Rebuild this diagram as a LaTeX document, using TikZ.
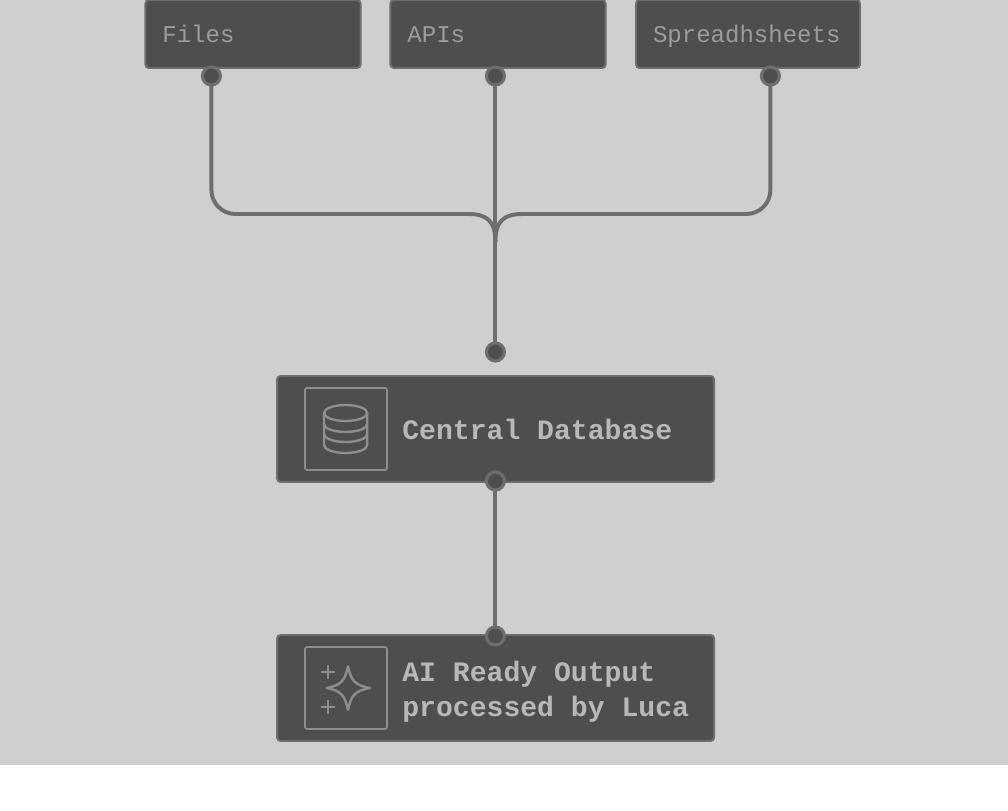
\documentclass[tikz,border=0pt]{standalone}
\usepackage{fontspec}
\setmonofont{Liberation Mono}
\definecolor{pagegray}{HTML}{CFCFCF}
\definecolor{boxgray}{HTML}{4E4E4E}
\definecolor{edgegray}{HTML}{6E6E6E}
\definecolor{icongray}{HTML}{8E8E8E}
\definecolor{srctext}{HTML}{9C9C9C}
\definecolor{maintext}{HTML}{B8B8B8}
\tikzset{
    srcbox/.style={draw=edgegray, fill=boxgray, line width=1.4pt, rounded corners=2.5pt,
        minimum height=1.7cm, inner xsep=0.425cm, inner ysep=0pt, text=srctext, align=left,
        font=\ttfamily\fontsize{17.1}{21}\selectfont, text width=#1,
        text height=15pt, text depth=2.6pt},
    mainbox/.style={draw=edgegray, fill=boxgray, line width=1.4pt, rounded corners=2.5pt,
        minimum width=10.925cm, minimum height=2.65cm},
    iconbox/.style={draw=icongray, line width=1.2pt, rounded corners=1.5pt,
        minimum width=2.05cm, minimum height=2.05cm},
    maintitle/.style={anchor=west, inner sep=0pt, text=maintext, align=left,
        font=\ttfamily\bfseries\fontsize{20}{24.9}\selectfont},
    port/.style={circle, draw=edgegray, fill=boxgray, line width=2.2pt, minimum size=0.45cm,
        inner sep=0pt, outer sep=0pt},
    wire/.style={draw=edgegray, line width=2.8pt},
    iconline/.style={draw=icongray, line width=1.7pt}
}

\begin{document}
\begin{tikzpicture}
    % Fix the page and draw the gray backdrop
    \useasboundingbox (0,0) rectangle (25.2,20.25);
    \fill[white] (0,0) rectangle (25.2,20.25);
    \fill[pagegray] (0,1.125) rectangle (25.2,20.25);

    % Source boxes
    \node[srcbox=4.53cm] (files) at (6.325,19.4) {Files};
    \node[srcbox=4.53cm] (apis) at (12.45,19.4) {APIs};
    \node[srcbox=4.75cm] (sheets) at (18.7,19.4) {Spreadhsheets};

    % Main boxes
    \node[mainbox] (database) at (12.39,9.525) {};
    \node[mainbox] (output) at (12.39,3.05) {};

    % Icon frames
    \node[iconbox] (dbframe) at (8.65,9.525) {};
    \node[iconbox] (aiframe) at (8.65,3.05) {};

    % Box titles
    \node[maintitle] (dbtitle) at (10.05,9.525) {Central Database};
    \node[maintitle] (aititle) at (10.05,2.96) {AI Ready Output\\processed by Luca};

    % Ports
    \node[port] (filesport) at (5.285,18.35) {};
    \node[port] (apisport) at (12.385,18.35) {};
    \node[port] (sheetsport) at (19.26,18.35) {};
    \node[port] (dbin) at (12.385,11.45) {};
    \node[port] (dbout) at (12.385,8.225) {};
    \node[port] (aiin) at (12.385,4.35) {};

    % Merge point of the three wires
    \coordinate (merge) at (12.385,14.2);
    \coordinate (leftbend) at (11.7,14.9);
    \coordinate (rightbend) at (13.07,14.9);

    % Wires
    \draw[wire, rounded corners=0.6cm] (filesport) |- (leftbend);
    \draw[wire] (leftbend) .. controls (12.15,14.9) and (12.385,14.75) .. (merge);
    \draw[wire, rounded corners=0.6cm] (sheetsport) |- (rightbend);
    \draw[wire] (rightbend) .. controls (12.62,14.9) and (12.385,14.75) .. (merge);
    \draw[wire] (apisport) -- (dbin);
    \draw[wire] (dbout) -- (aiin);

    % Database icon
    \draw[iconline] (8.64,9.925) ellipse (0.54 and 0.2);
    \draw[iconline] (8.1,9.925) -- (8.1,9.125) arc (180:360:0.54 and 0.2) -- (9.18,9.925);
    \draw[iconline] (8.1,9.65) arc (180:360:0.54 and 0.2);
    \draw[iconline] (8.1,9.4) arc (180:360:0.54 and 0.2);

    % Sparkle icon
    \draw[iconline, line join=round] (8.7,3.59) .. controls (8.78,3.22) and (8.88,3.12) .. (9.25,3.05)
        .. controls (8.88,2.98) and (8.78,2.88) .. (8.7,2.5)
        .. controls (8.62,2.88) and (8.52,2.98) .. (8.17,3.05)
        .. controls (8.52,3.12) and (8.62,3.22) .. cycle;
    \draw[iconline] (8.025,3.45) -- (8.375,3.45);
    \draw[iconline] (8.2,3.275) -- (8.2,3.625);
    \draw[iconline] (8.025,2.575) -- (8.375,2.575);
    \draw[iconline] (8.2,2.4) -- (8.2,2.75);
\end{tikzpicture}
\end{document}
